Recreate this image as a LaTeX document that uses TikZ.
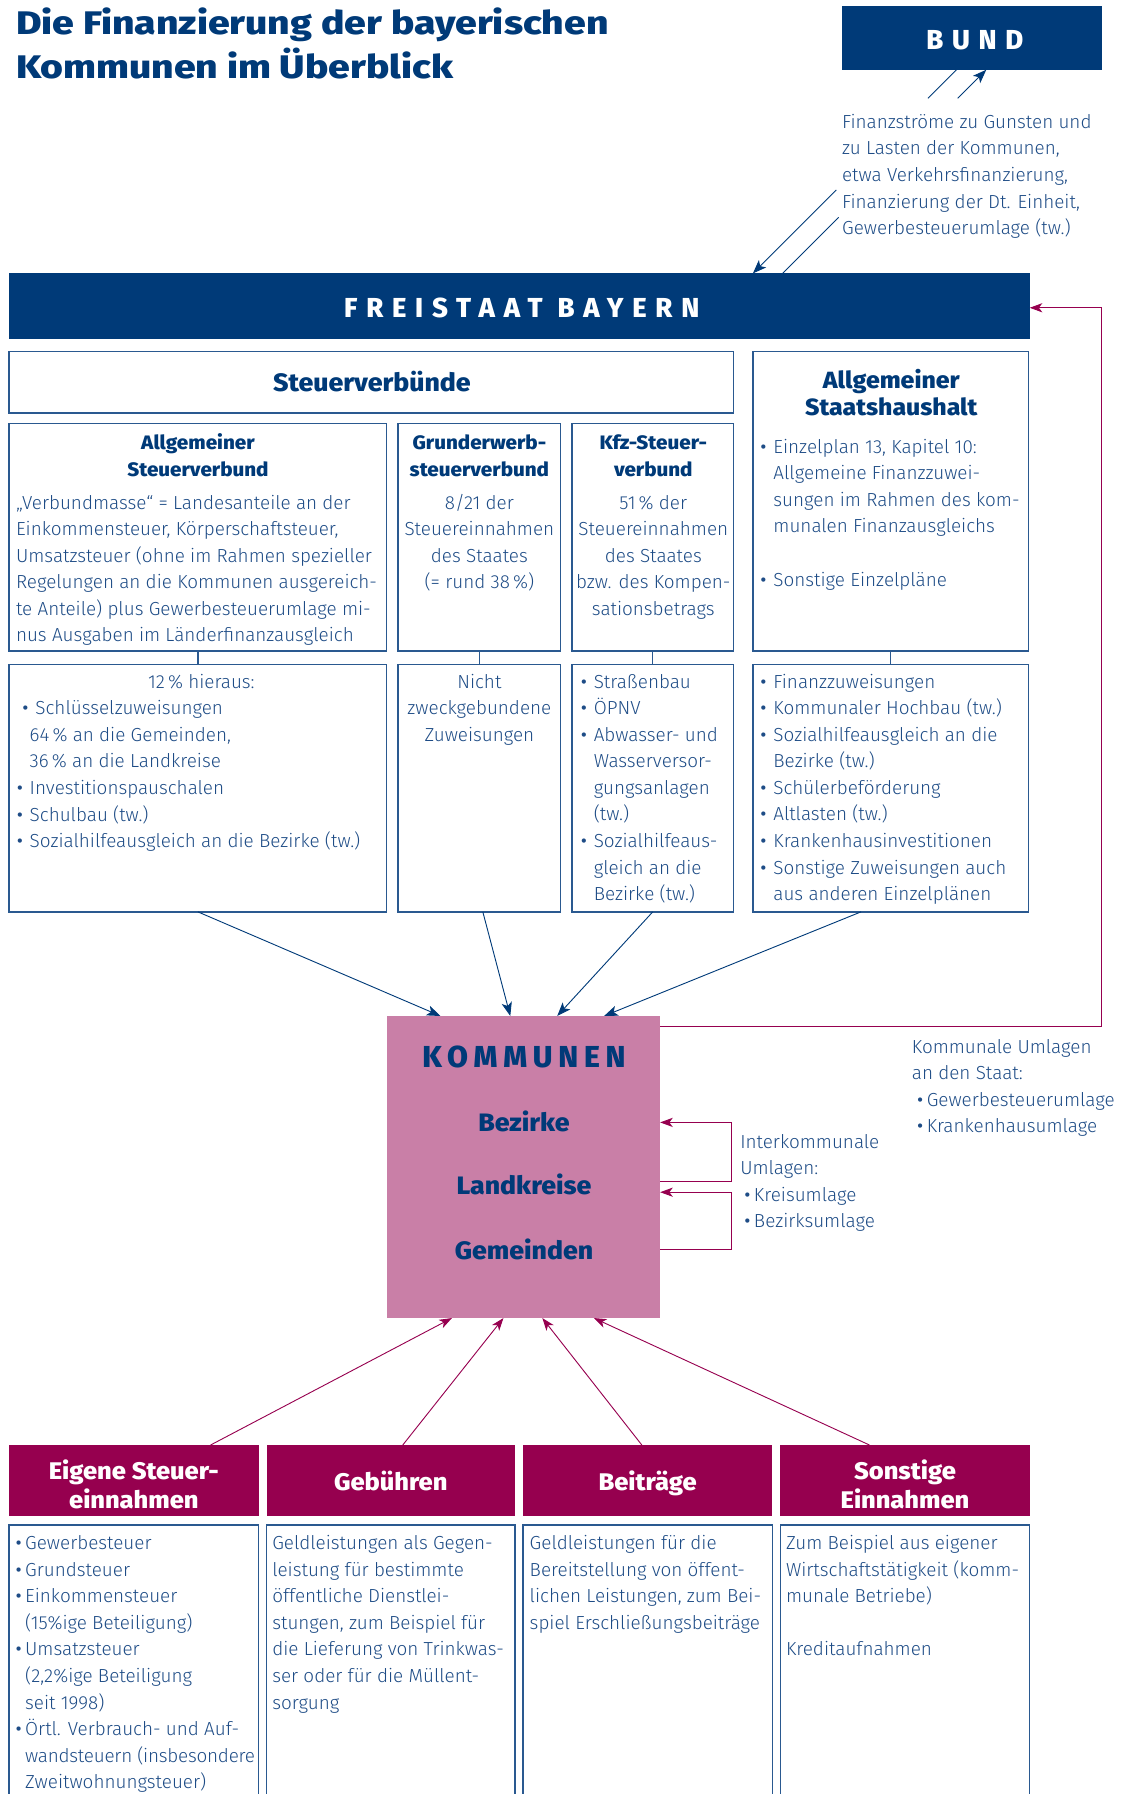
\documentclass[tikz,border=0pt]{standalone}
\usepackage{fontspec}
\IfFontExistsTF{Fira Sans Book}{\setmainfont{Fira Sans Book}[BoldFont={Fira Sans Bold}]}{\IfFontExistsTF{Fira Sans Light}{\setmainfont{Fira Sans Light}[BoldFont={Fira Sans Bold}]}{\setmainfont{Fira Sans}}}
\IfFontExistsTF{Fira Sans ExtraBold}{\newfontfamily\hvy{Fira Sans ExtraBold}}{\newcommand\hvy{\bfseries}}
\newfontfamily\bulfont{Fira Sans}
\usetikzlibrary{arrows.meta,fit}
\definecolor{bblue}{HTML}{003A78}
\definecolor{tblue}{HTML}{1E4C86}
\definecolor{bord}{HTML}{2A5990}
\definecolor{mag}{HTML}{96004F}
\definecolor{pinkk}{HTML}{C97FA7}
\newcommand\mybul[1][6pt]{\llap{{\bulfont\textbullet}\hspace{#1}}}
\newcommand\bodyfont{\fontsize{16.5}{23.2}\selectfont}
\newcommand\hd[2]{\fontsize{#1}{#2}\selectfont\hvy\addfontfeature{FakeStretch=1.06}}
\begin{document}
\begin{tikzpicture}[x=1pt,y=-1pt,
 every node/.style={inner sep=0pt, outer sep=0pt},
 dbox/.style={fill=bblue, fit={#1}},
 mbox/.style={fill=mag, fit={#1}},
 kbox/.style={fill=pinkk, fit={#1}},
 wbox/.style={draw=bord, line width=1.3pt, fit={#1}},
 body/.style={anchor=north west, align=left, text=tblue, font=\bodyfont},
 cbody/.style={anchor=north, align=center, text=tblue, font=\bodyfont},
 head/.style={anchor=north, align=center, text=bblue, font=\hd{17}{23.6}},
 spaced/.style={text=white, font=\fontsize{24}{28}\selectfont\hvy\addfontfeature{LetterSpace=32}},
 kt/.style={anchor=base, text=bblue, font=\hd{22}{26}},
 hw/.style={align=center, text=white, font=\hd{21}{22.5}},
 cline/.style={draw=bord, line width=1pt},
 bline/.style={draw=bblue, line width=0.8pt},
 barrow/.style={draw=bblue, line width=0.8pt, -{Stealth[length=12pt,width=9pt,inset=3pt]}},
 marrow/.style={draw=mag, line width=0.8pt, -{Stealth[length=11pt,width=8pt,inset=3pt]}}
]
\useasboundingbox (0,0) rectangle (984,1568);
\clip (0,0) rectangle (984,1568);

% title
\node[anchor=north west, align=left, text=bblue, font=\fontsize{28.5}{38.5}\selectfont\hvy\addfontfeature{FakeStretch=1.2}] (title) at (14,3.05) {\strut Die Finanzierung der bayerischen\\Kommunen im Überblick};

% Bund
\node[dbox={(736,5) (963,61)}] (bund) {};
\node[spaced, anchor=base] (bundt) at (852,43.1) {BUND};
\node[body] (flows) at (736,95.96) {\strut Finanzströme zu Gunsten und\\zu Lasten der Kommunen,\\etwa Verkehrsfinanzierung,\\Finanzierung der Dt. Einheit,\\Gewerbesteuerumlage (tw.)};

% Freistaat
\node[dbox={(8,239) (900,296)}] (fs) {};
\node[spaced, anchor=base] (fst) at (456,277.3) {FREISTAAT BAYERN};

% Bund <-> Freistaat flows
\coordinate (a1) at (836,61);
\coordinate (a2) at (811,86);
\coordinate (a3) at (731,166);
\coordinate (a4) at (658,239);
\coordinate (b1) at (684,239);
\coordinate (b2) at (733,190);
\coordinate (b3) at (837,86);
\coordinate (b4) at (862,61);
\draw[bline] (a1) -- (a2);
\draw[barrow] (a3) -- (a4);
\draw[bline] (b1) -- (b2);
\draw[barrow] (b3) -- (b4);

% Steuerverbuende
\node[wbox={(8,307) (641,361)}] (sv) {};
\node[anchor=base, text=bblue, font=\hd{22}{26}] (svt) at (325,342.3) {Steuerverbünde};

% Allgemeiner Staatshaushalt
\node[wbox={(658,307) (899,569)}] (ash) {};
\node[anchor=north, align=center, text=bblue, font=\hd{20.5}{23.3}] (asht) at (779,323.1) {\strut Allgemeiner\\Staatshaushalt};
\node[body] (ashb) at (676,379.96) {\strut\mybul Einzelplan 13, Kapitel 10:\\Allgemeine Finanzzuwei-\\sungen im Rahmen des kom-\\munalen Finanzausgleichs\\[23.2pt]\mybul Sonstige Einzelpläne};

% row 2
\node[wbox={(8,370) (338,569)}] (asv) {};
\node[head] (asvt) at (173,376.5) {\strut Allgemeiner\\Steuerverbund};
\node[body] (asvb) at (14,428.76) {\strut „Verbundmasse“ = Landesanteile an der\\Einkommensteuer, Körperschaftsteuer,\\Umsatzsteuer (ohne im Rahmen spezieller\\Regelungen an die Kommunen ausgereich-\\te Anteile) plus Gewerbesteuerumlage mi-\\nus Ausgaben im Länderfinanzausgleich};

\node[wbox={(348,370) (490,569)}] (gsv) {};
\node[head] (gsvt) at (419,376.5) {\strut Grunderwerb-\\steuerverbund};
\node[cbody] (gsvb) at (419,428.76) {\strut 8/21 der\\Steuereinnahmen\\des Staates\\(= rund 38\,\%)};

\node[wbox={(500,370) (641,569)}] (ksv) {};
\node[head] (ksvt) at (571,376.5) {\strut Kfz-Steuer-\\verbund};
\node[cbody] (ksvb) at (571,428.76) {\strut 51\,\% der\\Steuereinnahmen\\des Staates\\bzw. des Kompen-\\sationsbetrags};

% row 3
\node[wbox={(8,581) (338,797)}] (r3a) {};
\node[anchor=base, text=tblue, font=\bodyfont] (r3at) at (176,601.5) {12\,\% hieraus:};
\node[body] (r3ab) at (26,608.56) {\strut\hspace*{5pt}\mybul Schlüsselzuweisungen\\64\,\% an die Gemeinden,\\36\,\% an die Landkreise\\\mybul Investitionspauschalen\\\mybul Schulbau (tw.)\\\mybul Sozialhilfeausgleich an die Bezirke (tw.)};

\node[wbox={(348,581) (490,797)}] (r3b) {};
\node[cbody] (r3bb) at (419,585.26) {\strut Nicht\\zweckgebundene\\Zuweisungen};

\node[wbox={(500,581) (641,797)}] (r3c) {};
\node[body] (r3cb) at (519,585.26) {\strut\mybul Straßenbau\\\mybul ÖPNV\\\mybul Abwasser- und\\Wasserversor-\\gungsanlagen\\(tw.)\\\mybul Sozialhilfeaus-\\gleich an die\\Bezirke (tw.)};

\node[wbox={(658,581) (899,797)}] (r3d) {};
\node[body] (r3db) at (676,585.26) {\strut\mybul Finanzzuweisungen\\\mybul Kommunaler Hochbau (tw.)\\\mybul Sozialhilfeausgleich an die\\Bezirke (tw.)\\\mybul Schülerbeförderung\\\mybul Altlasten (tw.)\\\mybul Krankenhausinvestitionen\\\mybul Sonstige Zuweisungen auch\\aus anderen Einzelplänen};

% connectors row 2 -> row 3
\draw[cline] (asv.south) -- (r3a.north);
\draw[cline] (gsv.south) -- (r3b.north);
\draw[cline] (ksv.south) -- (r3c.north);
\draw[cline] (ash.south) -- (r3d.north);

% Kommunen
\node[kbox={(338,888) (577,1152)}] (kom) {};
\node[anchor=base, text=bblue, font=\fontsize{26.5}{30}\selectfont\hvy\addfontfeature{LetterSpace=19}] (komt) at (458,932.7) {KOMMUNEN};
\node[kt] (bez) at (458,989) {Bezirke};
\node[kt] (lkr) at (458,1044.3) {Landkreise};
\node[kt] (gem) at (458,1101.1) {Gemeinden};

% blue arrows into Kommunen
\draw[barrow] (r3a.south) -- ([xshift=47pt]kom.north west);
\draw[barrow] ([xshift=3pt]r3b.south) -- ([xshift=108pt]kom.north west);
\draw[barrow] (r3c.south) -- ([xshift=149pt]kom.north west);
\draw[barrow] ([xshift=-26pt]r3d.south) -- ([xshift=190pt]kom.north west);

% Kommunale Umlagen an den Staat
\coordinate (rc) at (963,269);
\draw[marrow] ([yshift=-9pt]kom.north east) -| (rc) -- (fs.east |- rc);
\node[body] (kul) at (797,904.26) {\strut Kommunale Umlagen\\an den Staat:\\\hspace*{13pt}\mybul[3pt]Gewerbesteuerumlage\\\hspace*{13pt}\mybul[3pt]Krankenhausumlage};

% Interkommunale Umlagen
\coordinate (i1) at (639,981);
\coordinate (i2) at (639,1033);
\coordinate (i3) at (639,1042);
\coordinate (i4) at (639,1092);
\draw[marrow] (kom.east |- i2) -- (i2) -- (i1) -- (kom.east |- i1);
\draw[marrow] (kom.east |- i4) -- (i4) -- (i3) -- (kom.east |- i3);
\node[body] (ikl) at (647,987.26) {\strut Interkommunale\\Umlagen:\\\hspace*{12pt}\mybul[3pt]Kreisumlage\\\hspace*{12pt}\mybul[3pt]Bezirksumlage};

% bottom headers
\node[mbox={(8,1263) (226,1325)}] (h1) {};
\node[hw, anchor=north] (h1t) at (117,1276.15) {\strut Eigene Steuer-\\einnahmen};
\node[mbox={(233,1263) (450,1325)}] (h2) {};
\node[hw, anchor=base] (h2t) at (341.5,1302.7) {Gebühren};
\node[mbox={(457,1263) (675,1325)}] (h3) {};
\node[hw, anchor=base] (h3t) at (566,1302.7) {Beiträge};
\node[mbox={(682,1263) (900,1325)}] (h4) {};
\node[hw, anchor=north] (h4t) at (791,1276.15) {\strut Sonstige\\Einnahmen};

% magenta arrows into Kommunen
\draw[marrow] ([xshift=67pt]h1.north) -- ([xshift=57pt]kom.south west);
\draw[marrow] ([xshift=10.5pt]h2.north) -- ([xshift=102pt]kom.south west);
\draw[marrow] ([xshift=-5pt]h3.north) -- ([xshift=136pt]kom.south west);
\draw[marrow] ([xshift=-31pt]h4.north) -- ([xshift=181pt]kom.south west);

% bottom boxes
\node[wbox={(8,1333) (226,1590)}] (bx1) {};
\node[wbox={(233,1333) (450,1590)}] (bx2) {};
\node[wbox={(457,1333) (675,1590)}] (bx3) {};
\node[wbox={(682,1333) (900,1590)}] (bx4) {};
\node[body] (bx1t) at (22,1338.26) {\strut\mybul[3pt]Gewerbesteuer\\\mybul[3pt]Grundsteuer\\\mybul[3pt]Einkommensteuer\\(15\%ige Beteiligung)\\\mybul[3pt]Umsatzsteuer\\(2,2\%ige Beteiligung\\seit 1998)\\\mybul[3pt]Örtl. Verbrauch- und Auf-\\{\addfontfeature{LetterSpace=-1.2}wandsteuern (insbesondere}\\Zweitwohnungsteuer)};
\node[body] (bx2t) at (238,1338.26) {\strut Geldleistungen als Gegen-\\leistung für bestimmte\\öffentliche Dienstlei-\\stungen, zum Beispiel für\\die Lieferung von Trinkwas-\\ser oder für die Müllent-\\sorgung};
\node[body] (bx3t) at (463,1338.26) {\strut Geldleistungen für die\\Bereitstellung von öffent-\\lichen Leistungen, zum Bei-\\spiel Erschließungsbeiträge};
\node[body] (bx4t) at (687,1338.26) {\strut Zum Beispiel aus eigener\\Wirtschaftstätigkeit (komm-\\munale Betriebe)\\[23.2pt]Kreditaufnahmen};
\end{tikzpicture}
\end{document}
